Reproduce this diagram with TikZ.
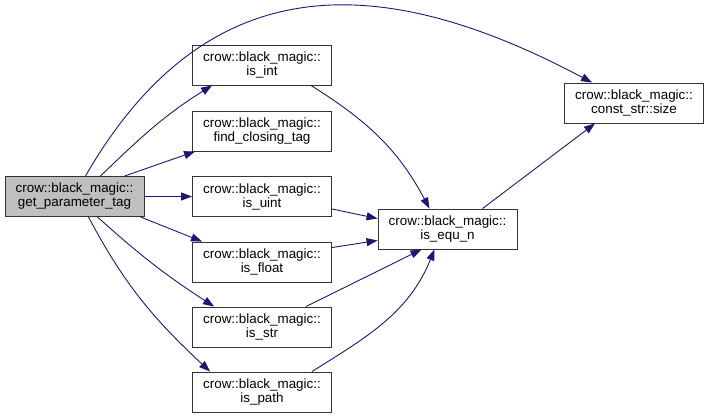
\documentclass[tikz,border=0pt]{standalone}
\usepackage{fontspec}
\setmainfont{Liberation Sans}
\usetikzlibrary{arrows.meta}
\definecolor{edgeblue}{HTML}{191970}
\begin{document}
\begin{tikzpicture}[x=1pt, y=1pt,
    fn/.style={draw=black!80, line width=0.9pt, minimum width=139pt, minimum height=40pt,
        align=center, inner sep=0pt, font=\fontsize{13.4}{14}\selectfont},
    call/.style={draw=edgeblue, line width=0.9pt, -{Triangle[length=11pt, width=8pt]}}]
    \useasboundingbox (0,0) rectangle (709,-418);
    % callers
    \node[fn, fill=black!25] (gpt) at (74.5,-196.5) {crow::black\_magic::\\get\_parameter\_tag};
    \node[fn] (isint) at (262,-65) {crow::black\_magic::\\is\_int};
    \node[fn] (fct) at (262,-131) {crow::black\_magic::\\find\_closing\_tag};
    \node[fn] (isuint) at (262,-196.5) {crow::black\_magic::\\is\_uint};
    \node[fn] (isfloat) at (262,-262) {crow::black\_magic::\\is\_float};
    \node[fn] (isstr) at (262,-327) {crow::black\_magic::\\is\_str};
    \node[fn] (ispath) at (262,-392) {crow::black\_magic::\\is\_path};
    \node[fn] (equn) at (447.5,-229) {crow::black\_magic::\\is\_equ\_n};
    \node[fn] (size) at (634,-103) {crow::black\_magic::\\const\_str::size};
    % edges
    \draw[call] ([xshift=-59pt]gpt.north east) to[out=60, in=152, looseness=1.2] ([xshift=28pt]size.north west);
    \draw[call] ([xshift=-44pt]gpt.north east) to[out=44, in=212] ([xshift=20pt]isint.south west);
    \draw[call] ([xshift=-20pt]gpt.north east) -- ([xshift=3pt]fct.south west);
    \draw[call] (gpt.east) -- (isuint.west);
    \draw[call] ([xshift=-4pt]gpt.south east) -- ([xshift=10pt]isfloat.north west);
    \draw[call] ([xshift=-47pt]gpt.south east) to[out=-42, in=147] ([xshift=22pt]isstr.north west);
    \draw[call] ([xshift=-56pt]gpt.south east) to[out=-62, in=137] ([xshift=18pt]ispath.north west);
    \draw[call] ([xshift=-21pt]isint.south east) to[out=-32, in=118] ([xshift=-18pt]equn.north);
    \draw[call] ([yshift=8pt]isuint.south east) -- ([yshift=-10pt]equn.north west);
    \draw[call] ([yshift=-6pt]isfloat.north east) -- ([yshift=9pt]equn.south west);
    \draw[call] ([xshift=-26pt]isstr.north east) -- ([xshift=-26pt]equn.south);
    \draw[call] ([xshift=-20pt]ispath.north east) to[out=32, in=-112] ([xshift=-13pt]equn.south);
    \draw[call] ([xshift=35pt]equn.north) -- ([xshift=-39pt]size.south);
\end{tikzpicture}
\end{document}
